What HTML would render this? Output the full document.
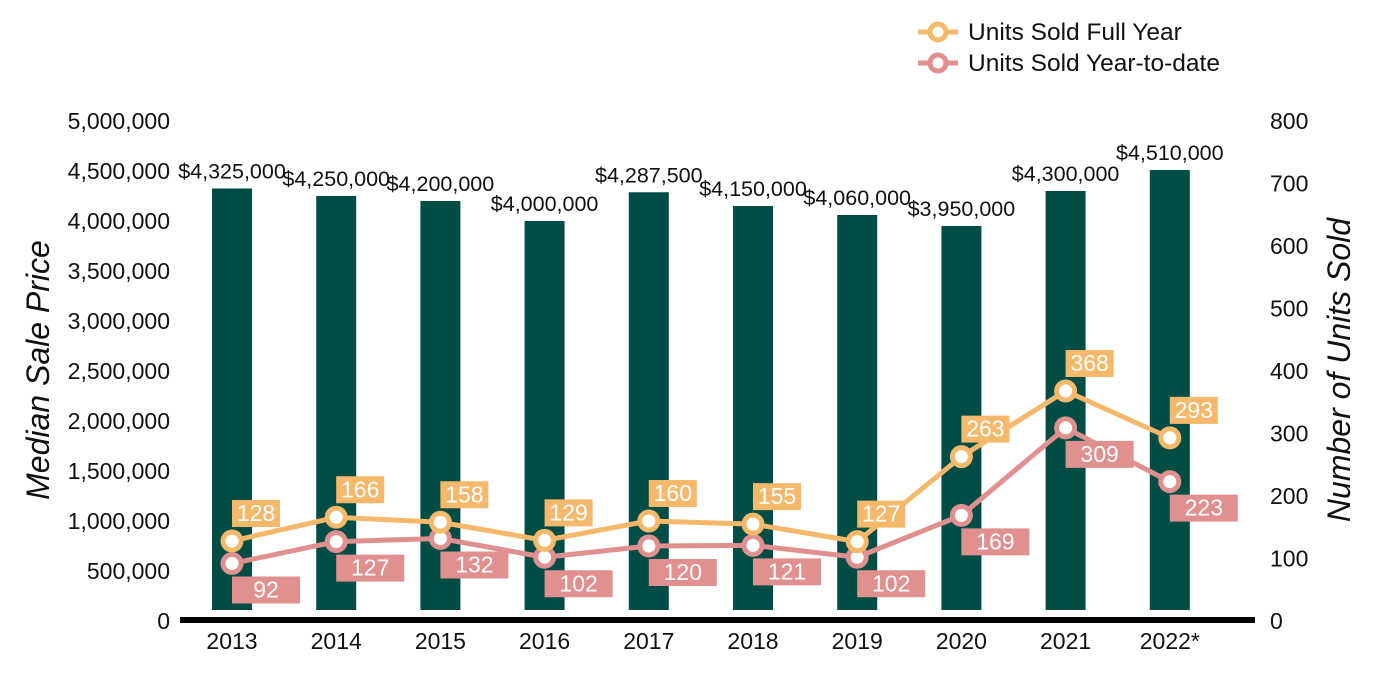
<!DOCTYPE html>
<html><head><meta charset="utf-8"><style>
body{margin:0;background:#fff;}
svg{display:block;font-family:"Liberation Sans",Arial,sans-serif;}
</style></head><body>
<svg id="chart" width="1400" height="700" viewBox="0 0 1400 700"></svg>
<script>
const years=["2013","2014","2015","2016","2017","2018","2019","2020","2021","2022*"];
const prices=[4325000,4250000,4200000,4000000,4287500,4150000,4060000,3950000,4300000,4510000];
const priceLabels=["$4,325,000","$4,250,000","$4,200,000","$4,000,000","$4,287,500","$4,150,000","$4,060,000","$3,950,000","$4,300,000","$4,510,000"];
const fullYear=[128,166,158,129,160,155,127,263,368,293];
const ytd=[92,127,132,102,120,121,102,169,309,223];
const leftTicks=[0,500000,1000000,1500000,2000000,2500000,3000000,3500000,4000000,4500000,5000000];
const rightTicks=[0,100,200,300,400,500,600,700,800];

const svg=document.getElementById('chart');
const NS="http://www.w3.org/2000/svg";
function mk(t,a,txt){const e=document.createElementNS(NS,t);for(const k in a)e.setAttribute(k,a[k]);if(txt!==undefined)e.textContent=txt;svg.appendChild(e);return e;}
const base=621;
const yL=v=>base-v/5000000*500;
const yR=v=>base-v/800*500;
const xC=i=>232+i*104.2;

leftTicks.forEach(v=>{
  const t=mk('text',{x:170,y:yL(v)+8,'text-anchor':'end','font-size':23,fill:'#111'},v.toLocaleString('en-US'));
  
  
});
rightTicks.forEach(v=>{
  const t=mk('text',{x:1270,y:yR(v)+8,'font-size':23,fill:'#111'},String(v));
  
  
});
let t=mk('text',{x:0,y:0,transform:'translate(49,370) rotate(-90)','text-anchor':'middle','font-size':32,'font-style':'italic',fill:'#111'},'Median Sale Price');

t=mk('text',{x:0,y:0,transform:'translate(1350,370) rotate(-90)','text-anchor':'middle','font-size':32,'font-style':'italic',fill:'#111'},'Number of Units Sold');


years.forEach((y,i)=>{
  const b=mk('rect',{x:xC(i)-20,y:yL(prices[i]),width:40,height:Math.max(0,610-yL(prices[i])),fill:'#004D45'});
  
  
  const l=mk('text',{x:xC(i),y:yL(prices[i])-10,'text-anchor':'middle','font-size':21.5,fill:'#111'},priceLabels[i]);
  
  
  const xl=mk('text',{x:xC(i),y:649,'text-anchor':'middle','font-size':23,fill:'#111'},y);
  
  
});
const ax=mk('rect',{x:180,y:617,width:1075,height:6,fill:'#000'});


function series(vals,color,name,below){
  const p=mk('polyline',{points:vals.map((v,i)=>xC(i)+','+yR(v)).join(' '),fill:'none',stroke:color,'stroke-width':5,'stroke-linejoin':'round'});
  
  
  vals.forEach((v,i)=>{
    const c=mk('circle',{cx:xC(i),cy:yR(v),r:9,fill:'#fff',stroke:color,'stroke-width':5});
    
    
    const w=below?68:48, by=below?yR(v)+13:yR(v)-41;
    const r=mk('rect',{x:xC(i),y:by,width:w,height:27,fill:color});
    
    
    const tx=mk('text',{x:xC(i)+w/2,y:by+21,'text-anchor':'middle','font-size':23,fill:'#fff'},String(v));
    
    
  });
}
series(ytd,'#E0908F','units-ytd',true);
series(fullYear,'#F6B96B','units-full-year',false);

[['Units Sold Full Year','#F6B96B',32,'legend-full-year'],['Units Sold Year-to-date','#E0908F',63,'legend-ytd']].forEach(d=>{
  const ln=mk('line',{x1:918,x2:958,y1:d[2],y2:d[2],stroke:d[1],'stroke-width':5});
  
  const c=mk('circle',{cx:938,cy:d[2],r:8,fill:'#fff',stroke:d[1],'stroke-width':5});
  
  const tx=mk('text',{x:968,y:d[2]+8,'font-size':24.5,fill:'#111'},d[0]);
  
});
</script>
</body></html>
